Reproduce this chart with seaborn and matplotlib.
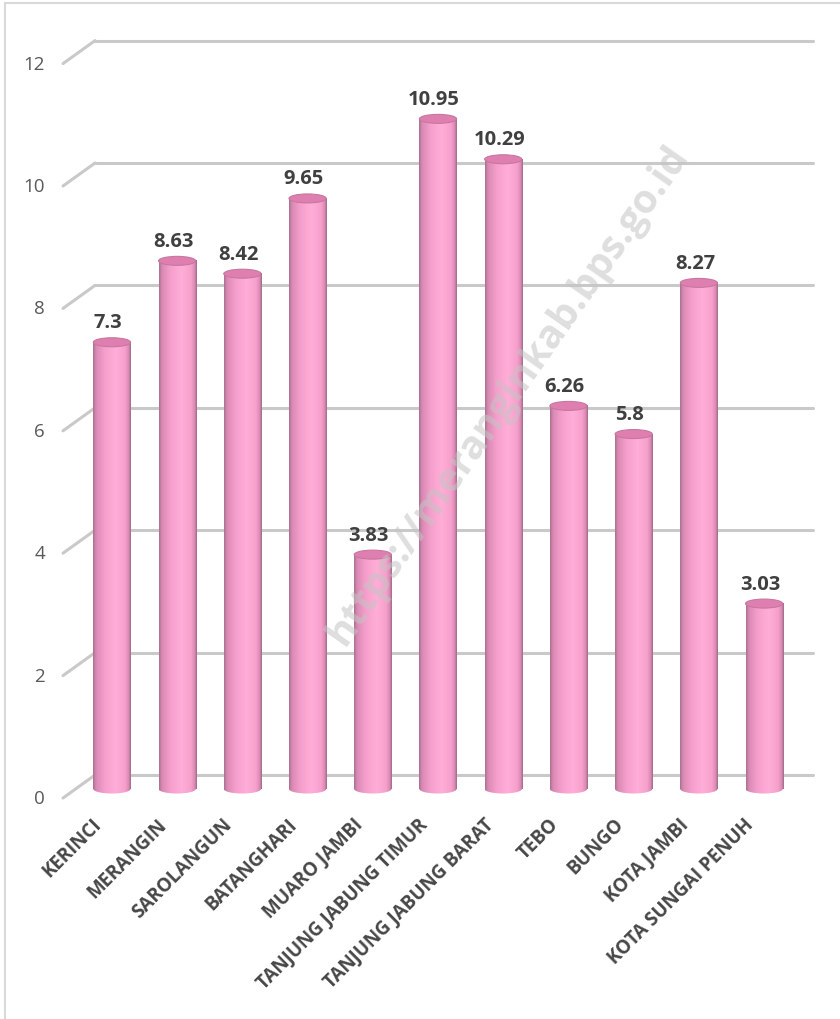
import numpy as np
import pandas as pd
import matplotlib
matplotlib.use("Agg")
import matplotlib.pyplot as plt
import seaborn as sns
from matplotlib.patches import Ellipse, Rectangle
from matplotlib.colors import LinearSegmentedColormap

# data
regions = [
    "KERINCI", "MERANGIN", "SAROLANGUN", "BATANGHARI", "MUARO JAMBI",
    "TANJUNG JABUNG TIMUR", "TANJUNG JABUNG BARAT", "TEBO", "BUNGO",
    "KOTA JAMBI", "KOTA SUNGAI PENUH",
]
values = [7.3, 8.63, 8.42, 9.65, 3.83, 10.95, 10.29, 6.26, 5.8, 8.27, 3.03]
y_ticks = [0, 2, 4, 6, 8, 10, 12]
watermark = "https://meranginkab.bps.go.id"

sns.set_style("white")
plt.rcParams["font.family"] = ["Open Sans", "DejaVu Sans"]

df = pd.DataFrame({"region": regions, "value": values})

fig = plt.figure(figsize=(8.4, 10.2), dpi=100)
ax = fig.add_axes([63 / 840, 220 / 1020, 750 / 840, 760 / 1020])

sns.barplot(data=df, x="region", y="value", color="#f7a1cd", width=0.57, ax=ax, zorder=3)

xlim = (-0.75, 10.75)
ylim = (-0.163, 12.255)
ax.set_xlim(xlim)
ax.set_ylim(ylim)
ax.set_axis_off()

# pixel -> data units
px_x = (xlim[1] - xlim[0]) / 750
px_y = (ylim[1] - ylim[0]) / 760
back_dx = 32 * px_x
back_dy = 14 * px_y
front_dy = -9 * px_y

grid_col = "#c9c9c9"
for v in y_ticks:
    ax.plot([xlim[0], xlim[0] + back_dx], [v + front_dy, v + back_dy],
            color=grid_col, lw=2.2, solid_capstyle="round", zorder=1, clip_on=False)
    ax.plot([xlim[0] + back_dx, xlim[1]], [v + back_dy, v + back_dy],
            color=grid_col, lw=2.2, solid_capstyle="round", zorder=1, clip_on=False)
    ax.annotate(str(v), xy=(xlim[0], v + front_dy), xytext=(-18, 0),
                textcoords="offset pixels", ha="right", va="center",
                fontsize=13.5, color="#595959", annotation_clip=False)

# cylinder look
cyl = LinearSegmentedColormap.from_list(
    "cyl", [(0.0, "#a8708e"), (0.08, "#d98ab4"), (0.3, "#f59fcb"), (0.6, "#ffaed8"),
            (0.85, "#f6a0cc"), (0.94, "#dc8ab5"), (1.0, "#9c6a86")])
grad = np.linspace(0, 1, 256).reshape(1, -1)
eh = 9 * px_y

for i, (p, v) in enumerate(zip(ax.patches, values)):
    x0 = p.get_x()
    w = p.get_width()
    h = p.get_height()
    p.set_facecolor("none")
    p.set_edgecolor("none")
    ax.imshow(grad, cmap=cyl, extent=[x0, x0 + w, 0, h], aspect="auto",
              interpolation="bilinear", zorder=3)
    bottom = Ellipse((x0 + w / 2, 0), w, eh, fc="none", ec="none")
    ax.add_patch(bottom)
    im = ax.imshow(grad, cmap=cyl, extent=[x0, x0 + w, -eh / 2, 0], aspect="auto",
                   interpolation="bilinear", zorder=3)
    im.set_clip_path(bottom)
    ax.add_patch(Ellipse((x0 + w / 2, h), w, eh, fc="#df7fb0", ec="#c7779f",
                         lw=0.8, zorder=4))
    ax.annotate(f"{v:g}", xy=(i, v), xytext=(-4, 15), textcoords="offset pixels",
                ha="center", va="baseline", fontsize=14.5, fontweight="bold",
                color="#404040")

ax.set_xlim(xlim)
ax.set_ylim(ylim)

for i, name in enumerate(regions):
    ax.annotate(name, xy=(i, ylim[0]), xytext=(-13, -22), textcoords="offset pixels",
                ha="right", va="center", rotation=45, rotation_mode="anchor",
                fontsize=13.5, fontweight="bold", color="#474747", annotation_clip=False)

fig.text(508 / 840, 1 - 395 / 1020, watermark, rotation=55, ha="center", va="center",
         fontsize=28.5, fontweight="bold", color="#c4c4c4", alpha=0.55, zorder=10)

fig.add_artist(Rectangle((5 / 840, -0.5), 2, 1.5 - 4 / 1020, transform=fig.transFigure,
                         fill=False, ec="#d9d9d9", lw=1.5))

fig.savefig("out.png", dpi=100)
